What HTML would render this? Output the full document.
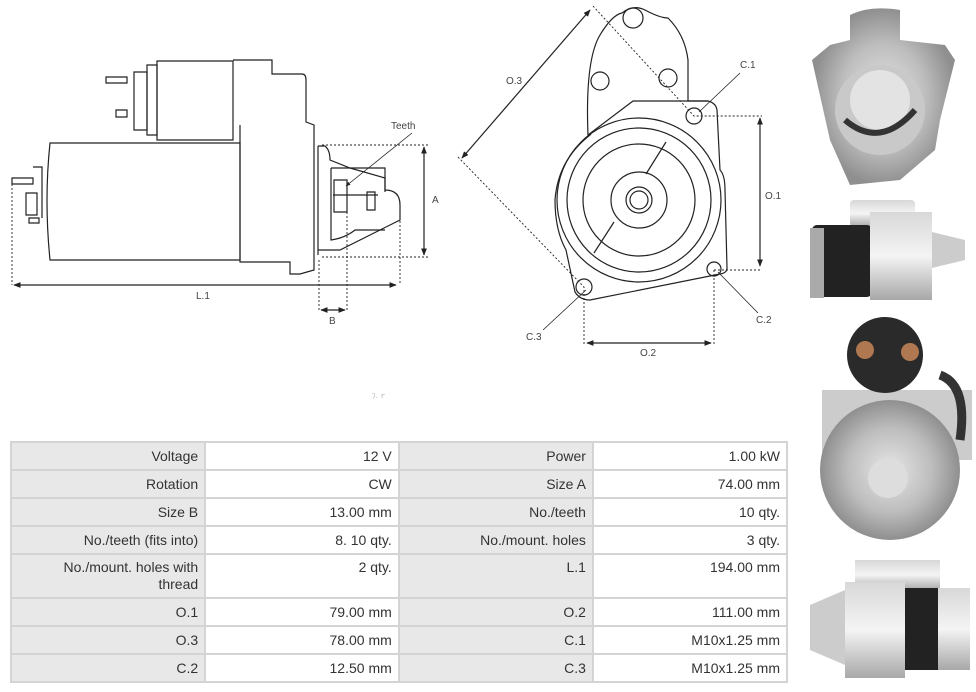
<!DOCTYPE html><html><head><style>
body{margin:0;width:976px;height:692px;background:#fff;overflow:hidden;position:relative;font-family:"Liberation Sans",sans-serif}
table{position:absolute;left:10px;top:441px;border-collapse:collapse;width:778px;font-size:14px;color:#333}
td{border:2px solid #d4d4d4;text-align:right;padding:0 6px;vertical-align:middle;width:182px}
tr{height:28px}
td.l{background:#e8e8e8}
tr.t{height:44px}
tr.t td{vertical-align:top;padding-top:4px;line-height:17px}
svg{position:absolute;left:0;top:0}
</style></head><body>
<svg width="976" height="692" viewBox="0 0 976 692" fill="none" stroke="#222" stroke-width="1.2" font-family="Liberation Sans" font-size="10">
<defs>
<linearGradient id="m" x1="0" y1="0" x2="0" y2="1"><stop offset="0" stop-color="#d8d8d8"/><stop offset=".5" stop-color="#f4f4f4"/><stop offset="1" stop-color="#a8a8a8"/></linearGradient>
<radialGradient id="r"><stop offset="0" stop-color="#e6e6e6"/><stop offset=".6" stop-color="#bdbdbd"/><stop offset="1" stop-color="#8f8f8f"/></radialGradient>
<marker id="a" viewBox="0 0 10 10" refX="9" refY="5" markerWidth="6" markerHeight="6" orient="auto-start-reverse"><path d="M0,1L10,5L0,9z" fill="#222" stroke="none"/></marker>
</defs>
<!-- side view -->
<path d="M50 143H240V260H50Q44 200 50 143Z"/>
<path d="M157 61H233V140H157Z"/><path d="M147 65H157V135H147Z"/><path d="M134 72H147V130H134Z"/>
<path d="M106 77H127V83H106Z M116 110H127V117H116Z"/>
<path d="M233 60H272V74H302Q306 74 306 80V122L314 125V270L300 274H290V262H240V125"/>
<path d="M318 146V255 M318 146H325Q330 150 330 160L350 168 385 178 V190Q400 190 400 205V220L380 230 340 250H318"/>
<path d="M331 168H385V192M331 168V240Q345 238 355 230H385"/>
<path d="M334 180H347V212H334Z M333 195H378 M367 192H375V210H367Z"/>
<path d="M12 178H33V184H12Z M26 193H37V215H26Z M29 218H39V223H29Z M33 167H42V218"/>
<g stroke-dasharray="2,2" stroke-width="0.9"><path d="M12 184V285 M319 260V312 M347 212V312 M400 205V285 M322 145H430 M322 257H430"/></g>
<path d="M14 285H396" marker-start="url(#a)" marker-end="url(#a)"/>
<path d="M424 147V255" marker-start="url(#a)" marker-end="url(#a)"/>
<path d="M321 310H345" marker-start="url(#a)" marker-end="url(#a)"/>
<path d="M346 186L412 133" marker-start="url(#a)" stroke-width=".8"/>
<g fill="#444" stroke="none"><text x="391" y="129">Teeth</text><text x="432" y="203">A</text><text x="196" y="299">L.1</text><text x="329" y="324">B</text></g>
<!-- front view -->
<path d="M588 135Q585 60 600 35Q612 15 622 13Q633 4 645 10Q660 18 668 18Q685 35 688 60V101H708Q716 103 717 110L720 170Q725 175 725 190L727 268Q727 273 720 274L590 300Q580 300 575 292L566 250Q555 230 555 200Q558 160 590 135Z"/>
<path d="M588 135L633 101H708"/>
<circle cx="633" cy="18" r="10"/><circle cx="600" cy="81" r="9"/><circle cx="668" cy="78" r="9"/>
<circle cx="694" cy="116" r="8"/><circle cx="714" cy="269" r="7"/><circle cx="584" cy="287" r="8"/>
<circle cx="639" cy="200" r="82"/><circle cx="639" cy="200" r="72"/><circle cx="639" cy="200" r="56"/><circle cx="639" cy="200" r="28"/><circle cx="639" cy="200" r="13"/><circle cx="639" cy="200" r="9"/>
<path d="M666 142L646 174 M614 222L594 253"/>
<g stroke-dasharray="2,2" stroke-width="0.9"><path d="M593 6L694 116H762 M458 157L584 287V345 M714 270H762 M714 270V345"/></g>
<path d="M590 10L462 158" marker-start="url(#a)" marker-end="url(#a)"/>
<path d="M760 118V266" marker-start="url(#a)" marker-end="url(#a)"/>
<path d="M587 343H711" marker-start="url(#a)" marker-end="url(#a)"/>
<path d="M740 73L699 112 M586 290L543 330 M718 272L758 313" stroke-width=".8"/>
<g fill="#444" stroke="none"><text x="740" y="68">C.1</text><text x="506" y="84">O.3</text><text x="765" y="199">O.1</text><text x="756" y="323">C.2</text><text x="526" y="340">C.3</text><text x="640" y="356">O.2</text></g>
<!-- photos -->
<g stroke="none">
<path d="M850 15Q870 5 900 10V40L945 45 955 60 940 120 935 150 900 180 850 185 830 140 812 60 830 45 850 40Z" fill="url(#r)"/>
<circle cx="880" cy="110" r="45" fill="#c9c9c9"/><circle cx="880" cy="100" r="30" fill="#e3e3e3"/><path d="M845 120Q880 150 915 110" stroke="#333" stroke-width="6" fill="none"/>
<rect x="850" y="200" width="65" height="27" rx="4" fill="url(#m)"/><rect x="812" y="225" width="60" height="72" rx="5" fill="#222"/><rect x="870" y="212" width="62" height="88" fill="url(#m)"/><path d="M932 232L965 240V260L932 268Z" fill="#ccc"/><rect x="810" y="228" width="14" height="70" fill="#aaa"/>
<rect x="822" y="390" width="150" height="70" fill="#ccc"/><circle cx="885" cy="355" r="38" fill="#2a2a2a"/><circle cx="865" cy="350" r="9" fill="#b07850"/><circle cx="910" cy="352" r="9" fill="#b07850"/>
<ellipse cx="890" cy="470" rx="70" ry="70" fill="url(#r)"/><circle cx="888" cy="478" r="20" fill="#ddd"/><path d="M940 375Q968 385 960 440" stroke="#333" stroke-width="9" fill="none"/>
<rect x="855" y="560" width="85" height="30" fill="url(#m)"/><path d="M810 605L845 590V665L810 650Z" fill="#ccc"/><rect x="845" y="582" width="60" height="96" fill="url(#m)"/><rect x="905" y="588" width="35" height="82" fill="#222"/><rect x="938" y="588" width="32" height="82" fill="url(#m)"/>
</g>
<text x="372" y="398" fill="#aaa" stroke="none" font-size="7">ﾌ. ｒ</text>
</svg>
<table>
<tr><td class="l">Voltage</td><td>12 V</td><td class="l">Power</td><td>1.00 kW</td></tr>
<tr><td class="l">Rotation</td><td>CW</td><td class="l">Size A</td><td>74.00 mm</td></tr>
<tr><td class="l">Size B</td><td>13.00 mm</td><td class="l">No./teeth</td><td>10 qty.</td></tr>
<tr><td class="l">No./teeth (fits into)</td><td>8. 10 qty.</td><td class="l">No./mount. holes</td><td>3 qty.</td></tr>
<tr class="t"><td class="l">No./mount. holes with<br>thread</td><td>2 qty.</td><td class="l">L.1</td><td>194.00 mm</td></tr>
<tr><td class="l">O.1</td><td>79.00 mm</td><td class="l">O.2</td><td>111.00 mm</td></tr>
<tr><td class="l">O.3</td><td>78.00 mm</td><td class="l">C.1</td><td>M10x1.25 mm</td></tr>
<tr><td class="l">C.2</td><td>12.50 mm</td><td class="l">C.3</td><td>M10x1.25 mm</td></tr>
</table>
</body></html>
